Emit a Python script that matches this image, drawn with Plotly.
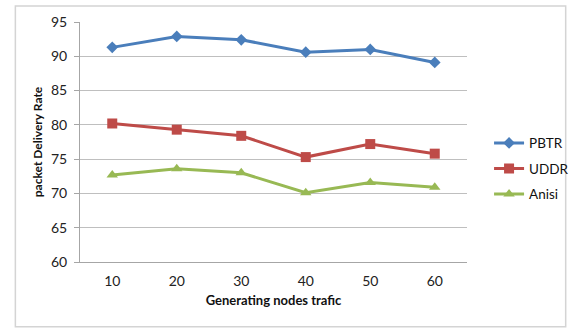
import plotly.graph_objects as go

# Generating nodes traffic (x categories)
traffic = ["10", "20", "30", "40", "50", "60"]

# Packet delivery rate per protocol
pbtr = [91.3, 92.9, 92.4, 90.6, 91.0, 89.1]
uddr = [80.2, 79.3, 78.4, 75.3, 77.2, 75.8]
anisi = [72.7, 73.6, 73.0, 70.1, 71.6, 70.9]

y_ticks = [60, 65, 70, 75, 80, 85, 90, 95]

font_family = "Lato, Open Sans, sans-serif"

fig = go.Figure()
series = [
    ("PBTR", pbtr, "#4A7EBB", "diamond", 9),
    ("UDDR", uddr, "#BE4B48", "square", 10),
    ("Anisi", anisi, "#98B954", "triangle-up", 10),
]
for name, vals, color, symbol, size in series:
    fig.add_trace(go.Scatter(
        x=traffic, y=vals, name=name, legendgroup=name,
        mode="lines+markers",
        line=dict(color=color, width=3),
        marker=dict(symbol=symbol, size=size, color=color),
    ))

fig.update_layout(
    width=586, height=329,
    margin=dict(l=80, r=105, t=22, b=67),
    paper_bgcolor="white", plot_bgcolor="white",
    font=dict(family=font_family, size=14, color="#222222"),
    showlegend=True,
    legend=dict(
        x=1.057, y=0.56, xanchor="left", yanchor="top",
        font=dict(size=13.5, color="#111111"),
        tracegroupgap=5, bgcolor="rgba(0,0,0,0)",
    ),
    shapes=[dict(
        type="rect", xref="paper", yref="paper",
        x0=-0.167, x1=1.255, y0=-0.27, y1=1.067,
        line=dict(color="#D4D4D4", width=1.5), layer="below",
    )],
)

fig.update_xaxes(
    type="category", range=[-0.5, 5.5],
    showgrid=False, showline=True, linecolor="#A6A6A6", linewidth=1,
    ticks="", ticklabelstandoff=6,
    tickfont=dict(size=14, color="#222222"),
    title=dict(text="<b>Generating nodes trafic</b>", font=dict(size=13, color="#111111"), standoff=8),
)
fig.update_yaxes(
    range=[60, 95], tickvals=y_ticks,
    showgrid=True, gridcolor="#BFBFBF", gridwidth=1,
    showline=True, linecolor="#A6A6A6", linewidth=1,
    ticks="outside", ticklen=5, tickcolor="#A6A6A6", ticklabelstandoff=4,
    tickfont=dict(size=14, color="#222222"),
    zeroline=False,
    title=dict(text="<b>packet Delivery Rate</b>", font=dict(size=12, color="#111111"), standoff=5),
)

fig.write_html("out.html")
